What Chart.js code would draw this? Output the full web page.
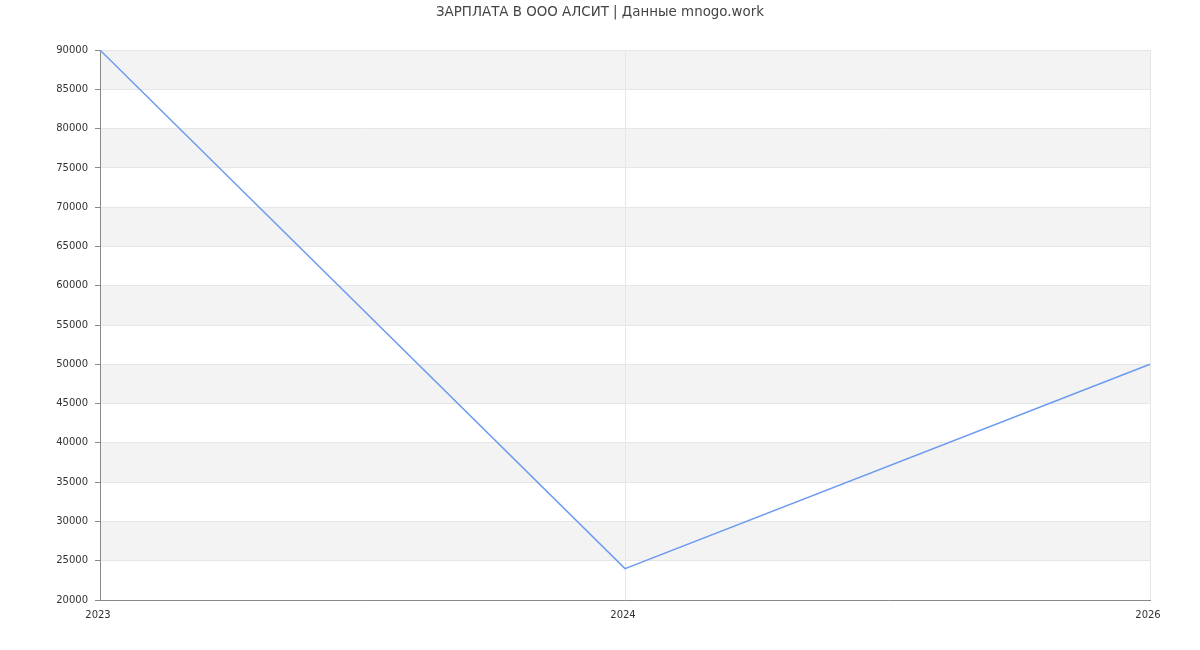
<!DOCTYPE html>
<html>
<head>
<meta charset="utf-8">
<script src="https://cdn.jsdelivr.net/npm/chart.js@4/dist/chart.umd.min.js"></script>
<style>
html,body{margin:0;padding:0;background:#fff;}
#wrap{width:1200px;height:650px;}
</style>
</head>
<body>
<div id="wrap"><canvas id="c" width="1200" height="650"></canvas></div>
<script>
const titleText = "ЗАРПЛАТА В ООО АЛСИТ | Данные mnogo.work";
const years = ["2023", "2024", "2026"];
const salary = [90000, 24000, 50000];
const yMin = 20000, yMax = 90000, yStep = 5000;

const bands = {
  id: 'bands',
  beforeDraw(chart) {
    const {ctx, chartArea, scales} = chart;
    const y = scales.y;
    ctx.save();
    ctx.fillStyle = '#f3f3f3';
    for (let v = yMax; v > yMin; v -= yStep * 2) {
      const top = y.getPixelForValue(v);
      const bot = y.getPixelForValue(v - yStep);
      ctx.fillRect(chartArea.left, top, chartArea.right - chartArea.left, bot - top);
    }
    ctx.restore();
  }
};

new Chart(document.getElementById('c'), {
  type: 'line',
  data: {
    labels: years,
    datasets: [{
      data: salary,
      borderColor: '#6d9bf0',
      borderWidth: 1.5,
      pointRadius: 0,
      tension: 0,
      fill: false
    }]
  },
  plugins: [bands],
  options: {
    responsive: false,
    animation: false,
    layout: {padding: {left: 0, right: 0, top: 0, bottom: 20}},
    plugins: {
      legend: {display: false},
      tooltip: {enabled: false},
      title: {
        display: true,
        text: titleText,
        color: '#444',
        font: {family: 'DejaVu Sans', size: 13.4, weight: 'normal'},
        padding: {top: 4, bottom: 30}
      }
    },
    scales: {
      x: {
        type: 'category',
        offset: false,
        grid: {color: '#e6e6e6', drawTicks: false},
        border: {color: '#888'},
        ticks: {color: '#333', font: {family: 'DejaVu Sans', size: 10}, padding: 9, maxRotation: 0, labelOffset: -2}
      },
      y: {
        min: yMin, max: yMax,
        afterFit(s) { s.width = 100; },
        grid: {color: '#e6e6e6', tickLength: 5, tickColor: '#888'},
        border: {color: '#888'},
        ticks: {stepSize: yStep, color: '#333', font: {family: 'DejaVu Sans', size: 10}, padding: 7,
          callback: v => String(v)}
      },
      yr: {
        position: 'right',
        display: true,
        afterFit(s) { s.width = 50; },
        grid: {display: false, drawOnChartArea: false},
        border: {display: false},
        ticks: {display: false}
      }
    }
  }
});
</script>
</body>
</html>
